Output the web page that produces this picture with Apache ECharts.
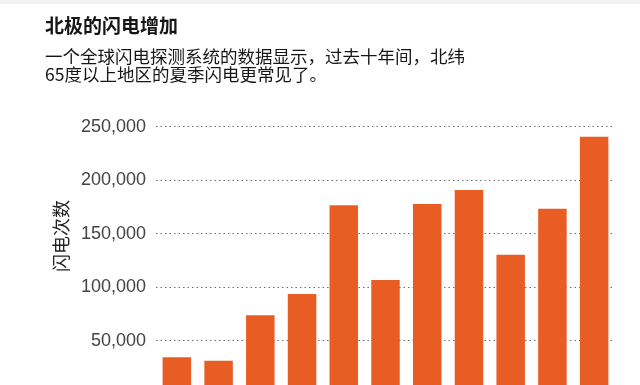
<!DOCTYPE html>
<html>
<head>
<meta charset="utf-8">
<script src="https://cdn.jsdelivr.net/npm/echarts@6/dist/echarts.min.js"></script>
<style>
html, body { margin: 0; padding: 0; background: #fff; overflow: hidden; }
#chart { width: 640px; height: 420px; }
</style>
</head>
<body>
<div id="chart"></div>
<script>
var titleText = '北极的闪电增加';
var subtitleText = '一个全球闪电探测系统的数据显示，过去十年间，北纬\n65度以上地区的夏季闪电更常见了。';
var yAxisName = '闪电次数';
var years = ['2010', '2011', '2012', '2013', '2014', '2015', '2016', '2017', '2018', '2019', '2020'];
var lightningCounts = [34500, 31300, 73700, 93600, 176500, 106700, 177800, 190800, 130400, 173400, 240700];
var yTicks = [0, 50000, 100000, 150000, 200000, 250000];

var chart = echarts.init(document.getElementById('chart'), null, { renderer: 'canvas' });
var cjk = '"Noto Sans CJK SC", "Noto Sans", sans-serif';
chart.setOption({
  animation: false,
  backgroundColor: '#ffffff',
  title: [
    {
      text: titleText, left: 45, top: 15, padding: 0,
      textStyle: { fontFamily: cjk, fontSize: 19, fontWeight: 'bold', color: '#161616', lineHeight: 22 }
    },
    {
      text: subtitleText, left: 45, top: 47, padding: 0,
      textStyle: { fontFamily: cjk, fontSize: 17.5, fontWeight: 'normal', color: '#161616', lineHeight: 18 }
    }
  ],
  graphic: [
    { type: 'rect', shape: { x: 0, y: 0, width: 640, height: 4 }, style: { fill: '#f1f1f1' } },
    {
      type: 'text', x: 61, y: 236, rotation: Math.PI / 2,
      style: { text: yAxisName, fontFamily: cjk, fontSize: 18, fill: '#222', align: 'center', verticalAlign: 'middle' }
    }
  ],
  grid: { left: 156, right: 25, top: 126.7, bottom: 25.8, containLabel: false },
  xAxis: {
    type: 'category',
    data: years,
    axisLine: { show: false },
    axisTick: { show: false },
    axisLabel: { show: true, color: '#555', fontSize: 14 }
  },
  yAxis: {
    type: 'value',
    min: yTicks[0],
    max: yTicks[yTicks.length - 1],
    interval: yTicks[1] - yTicks[0],
    axisLine: { show: false },
    axisTick: { show: false },
    axisLabel: {
      margin: 10,
      color: '#444',
      fontFamily: '"Liberation Sans", Arial, sans-serif',
      fontSize: 18,
      formatter: function (v) { return v === 0 ? '0' : v.toLocaleString('en-US'); }
    },
    splitLine: { show: true, lineStyle: { color: '#6f6f6f', type: [1.5, 3], width: 1.2 } }
  },
  series: [{
    type: 'bar',
    data: lightningCounts,
    barWidth: 28.5,
    itemStyle: { color: '#e85d24' }
  }]
});
</script>
</body>
</html>
